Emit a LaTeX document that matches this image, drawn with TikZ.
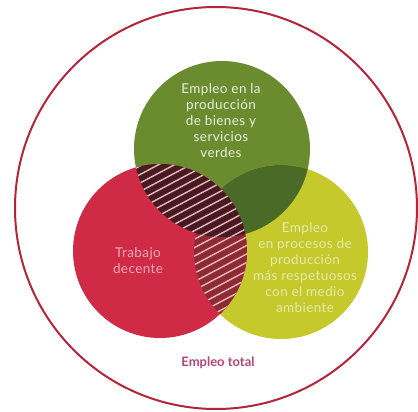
\documentclass[tikz,border=0pt]{standalone}
\usepackage{fontspec}
\setmainfont{Lato}
\newfontfamily\lbl[LetterSpace=3]{Lato}
\definecolor{cgreen}{HTML}{6B8C2E}
\definecolor{cyellow}{HTML}{C5C92B}
\definecolor{cred}{HTML}{CF2B47}
\definecolor{cdkgreen}{HTML}{4A6A28}
\definecolor{cmaroon}{HTML}{461A1F}
\definecolor{credyel}{HTML}{8E2A32}
\definecolor{couter}{HTML}{B3263A}
\definecolor{ctotal}{HTML}{B5457A}
\definecolor{chatch}{HTML}{E8B8C2}
\tikzset{
  lbltext/.style={align=center,font=\lbl\fontsize{13.5}{16}\selectfont},
  hatchline/.style={draw=chatch,line width=1.4pt}
}
\begin{document}
\begin{tikzpicture}[x=1pt,y=-1pt]
\useasboundingbox (0,0) rectangle (418,412);
\fill[white] (0,0) rectangle (418,412);
\coordinate (O) at (216,208);
\coordinate (G) at (222,149);
\coordinate (R) at (160,251);
\coordinate (Y) at (281,252);
% outer circle
\draw[couter,line width=2pt] (O) circle[radius=201pt];
% base circles
\fill[cgreen] (G) circle[radius=88pt];
\fill[cyellow] (Y) circle[radius=87pt];
\fill[cred] (R) circle[radius=87pt];
% green & yellow
\begin{scope}
  \clip (G) circle[radius=88pt];
  \fill[cdkgreen] (Y) circle[radius=87pt];
\end{scope}
% red & yellow
\begin{scope}
  \clip (R) circle[radius=87pt];
  \fill[credyel] (Y) circle[radius=87pt];
  \foreach \b in {150,158.5,...,460} {
    \begin{scope}
      \clip (Y) circle[radius=87pt];
      \draw[hatchline] (90,\b) -- (300,\b-111.3);
    \end{scope}
  }
\end{scope}
% red & green
\begin{scope}
  \clip (R) circle[radius=87pt];
  \clip (G) circle[radius=88pt];
  \fill[cmaroon] (G) circle[radius=88pt];
  \foreach \b in {150,158.5,...,460} {
    \draw[hatchline] (90,\b) -- (300,\b-111.3);
  }
\end{scope}
% labels
\node[lbltext,text=white!85!cgreen] (tg) at (221,121) {Empleo en la\\producción\\de bienes y\\servicios\\verdes};
\node[lbltext,text=white!60!cred] (tr) at (138,261) {Trabajo\\decente};
\node[lbltext,text=white!60!cyellow] (ty) at (305,268) {Empleo\\en procesos de\\producción\\más respetuosos\\con el medio\\ambiente};
\node[font=\bfseries\fontsize{13}{15}\selectfont,text=ctotal] (tt) at (218,363) {Empleo total};
\end{tikzpicture}
\end{document}
